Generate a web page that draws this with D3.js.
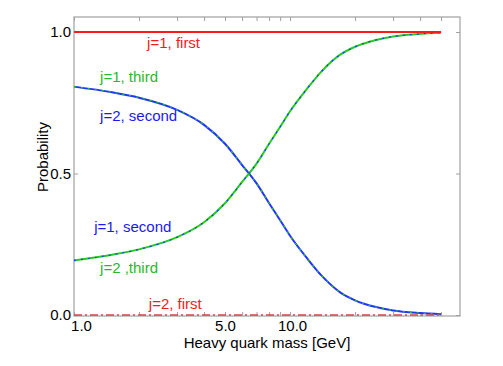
<!DOCTYPE html>
<html>
<head>
<meta charset="utf-8">
<script src="https://cdn.jsdelivr.net/npm/d3@7"></script>
<style>
  body { margin: 0; background: #fff; }
  text { font-family: "Liberation Sans", Arial, Helvetica, sans-serif; }
</style>
</head>
<body>
<div id="chart"></div>
<script>
// masses [GeV] and probabilities
const mass = [1, 1.5, 2, 3, 4, 5, 6, 7, 8, 9, 10, 12, 14, 17, 20, 25, 30, 40, 50];
const probFalling = [0.807, 0.787, 0.768, 0.725, 0.672, 0.605, 0.530, 0.465, 0.395, 0.335, 0.280, 0.200, 0.139, 0.081, 0.052, 0.028, 0.016, 0.007, 0.003];
const probRising = [0.193, 0.213, 0.232, 0.275, 0.328, 0.395, 0.470, 0.535, 0.605, 0.665, 0.720, 0.800, 0.861, 0.919, 0.948, 0.972, 0.984, 0.993, 0.997];
const probFirstJ1 = [1, 1];
const probFirstJ2 = [0, 0];
const massEnds = [1, 50];

const xMajor = [1, 5, 10];
const xMinor = [2, 3, 4, 6, 7, 8, 9, 20, 30, 40, 50];
const yTicks = [0, 0.5, 1];

// label text with anchor in data units (mass, probability)
const labels = [
    {text: "j=1, first", m: 2.18, p: 0.943, color: "#ee1c1c"},
    {text: "j=1, third", m: 1.32, p: 0.823, color: "#2ab82a"},
    {text: "j=2, second", m: 1.32, p: 0.686, color: "#1a1aee"},
    {text: "j=1, second", m: 1.24, p: 0.294, color: "#1a1aee"},
    {text: "j=2 ,third", m: 1.32, p: 0.147, color: "#2ab82a"},
    {text: "j=2, first", m: 2.22, p: 0.020, color: "#ee1c1c"}
];

const W = 503, H = 366;
const margin = {left: 74, right: 460, top: 17, bottom: 316};

const svg = d3.select("#chart")
    .append("svg")
    .attr("width", W)
    .attr("height", H);

const x = d3.scaleLog()
    .domain([1, 61.2])
    .range([margin.left, margin.right]);

const y = d3.scaleLinear()
    .domain([-0.0035, 1.053])
    .range([margin.bottom, margin.top]);

// frame
svg.append("rect")
    .attr("x", margin.left)
    .attr("y", margin.top)
    .attr("width", margin.right - margin.left)
    .attr("height", margin.bottom - margin.top)
    .attr("fill", "none")
    .attr("stroke", "#a0a0a0")
    .attr("stroke-width", 1.2);

const allX = xMajor.concat(xMinor);

// bottom axis
const gx = svg.append("g")
    .attr("transform", "translate(0," + margin.bottom + ")")
    .call(d3.axisBottom(x)
        .tickValues(allX)
        .tickFormat(d => xMajor.includes(d) ? d3.format(".1f")(d) : "")
        .tickSizeInner(-4)
        .tickSizeOuter(0)
        .tickPadding(4));
gx.select(".domain").remove();
gx.selectAll("line").attr("stroke", "#a0a0a0");
gx.selectAll("text")
    .style("font-size", "15px")
    .attr("fill", "#000")
    .attr("dx", d => d === 1 ? 7 : (d === 10 ? 2 : 0));

// top axis
const gxt = svg.append("g")
    .attr("transform", "translate(0," + margin.top + ")")
    .call(d3.axisTop(x).tickValues(allX).tickFormat("").tickSizeInner(-4).tickSizeOuter(0));
gxt.select(".domain").remove();
gxt.selectAll("line").attr("stroke", "#a0a0a0");

// left axis
const gy = svg.append("g")
    .attr("transform", "translate(" + margin.left + ",0)")
    .call(d3.axisLeft(y)
        .tickValues(yTicks)
        .tickFormat(d3.format(".1f"))
        .tickSizeInner(-4)
        .tickSizeOuter(0)
        .tickPadding(3));
gy.select(".domain").remove();
gy.selectAll("line").attr("stroke", "#a0a0a0");
gy.selectAll("text")
    .style("font-size", "15px")
    .attr("fill", "#000");

// right axis
const gyr = svg.append("g")
    .attr("transform", "translate(" + margin.right + ",0)")
    .call(d3.axisRight(y).tickValues(yTicks).tickFormat("").tickSizeInner(-4).tickSizeOuter(0));
gyr.select(".domain").remove();
gyr.selectAll("line").attr("stroke", "#a0a0a0");

// axis titles
svg.append("text")
    .attr("x", (margin.left + margin.right) / 2)
    .attr("y", 347.5)
    .attr("text-anchor", "middle")
    .style("font-size", "15px")
    .text("Heavy quark mass [GeV]");

svg.append("text")
    .attr("transform", "translate(47.5,157)rotate(-90)")
    .attr("text-anchor", "middle")
    .style("font-size", "15px")
    .text("Probability");

// curves
const line = d3.line()
    .x(d => x(d[0]))
    .y(d => y(d[1]))
    .curve(d3.curveMonotoneX);

const falling = d3.zip(mass, probFalling);
const rising = d3.zip(mass, probRising);

svg.append("path")
    .datum(falling)
    .attr("d", line)
    .attr("fill", "none")
    .attr("stroke", "#2233ff")
    .attr("stroke-width", 2);
svg.append("path")
    .datum(falling)
    .attr("d", line)
    .attr("fill", "none")
    .attr("stroke", "#22cc22")
    .attr("stroke-width", 1.2)
    .attr("stroke-dasharray", "2,5");

svg.append("path")
    .datum(rising)
    .attr("d", line)
    .attr("fill", "none")
    .attr("stroke", "#22cc22")
    .attr("stroke-width", 2);
svg.append("path")
    .datum(rising)
    .attr("d", line)
    .attr("fill", "none")
    .attr("stroke", "#2233ff")
    .attr("stroke-width", 1.2)
    .attr("stroke-dasharray", "2,5");

svg.append("path")
    .datum(d3.zip(massEnds, probFirstJ1))
    .attr("d", line)
    .attr("fill", "none")
    .attr("stroke", "#ff1a1a")
    .attr("stroke-width", 1.8);

svg.append("path")
    .datum(d3.zip(massEnds, probFirstJ2))
    .attr("d", line)
    .attr("fill", "none")
    .attr("stroke", "#d04848")
    .attr("stroke-width", 1.4)
    .attr("stroke-dasharray", "8,3,2,3");

// curve labels
svg.selectAll(".lbl")
    .data(labels)
    .enter()
    .append("text")
    .attr("x", d => x(d.m))
    .attr("y", d => y(d.p))
    .attr("fill", d => d.color)
    .style("font-size", "15px")
    .text(d => d.text);
</script>
</body>
</html>
